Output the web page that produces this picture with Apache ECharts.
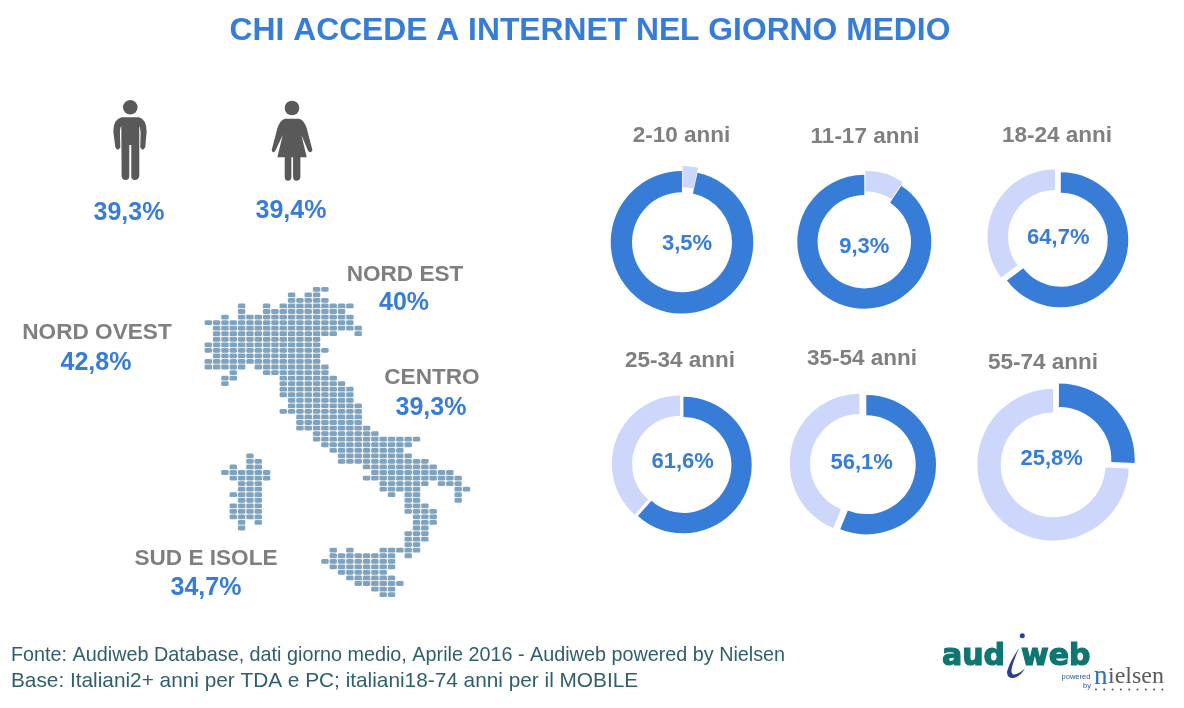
<!DOCTYPE html>
<html>
<head>
<meta charset="utf-8">
<style>html,body{margin:0;padding:0;background:#fff}#chart{width:1184px;height:708px}</style>
<script src="https://cdn.jsdelivr.net/npm/echarts@6/dist/echarts.min.js"></script>
</head>
<body>
<div id="chart"></div>
<script>
// dati
const pageTitle = 'CHI ACCEDE A INTERNET NEL GIORNO MEDIO'
const ageGroups = ['2-10 anni', '11-17 anni', '18-24 anni', '25-34 anni', '35-54 anni', '55-74 anni']
const accessShare = [3.5, 9.3, 64.7, 61.6, 56.1, 25.8]
const restShare = [96.5, 90.7, 35.3, 38.4, 43.9, 74.2]
const genderValues = ['39,3%', '39,4%']
const regionNames = ['NORD EST', 'NORD OVEST', 'CENTRO', 'SUD E ISOLE']
const regionValues = ['40%', '42,8%', '39,3%', '34,7%']
const footerLines = [
    'Fonte: Audiweb Database, dati giorno medio, Aprile 2016 - Audiweb powered by Nielsen',
    'Base: Italiani2+ anni per TDA e PC; italiani18-74 anni per il MOBILE'
]
// mappa a puntini: [riga, da colonna, a colonna]
const italyRuns = [
    [0,13,14],[1,10,10],[1,12,13],[2,10,14],[3,4,4],[3,7,7],[3,9,17],[4,4,4],[4,7,16],
    [5,2,2],[5,4,17],[6,0,17],[7,1,18],[8,1,15],[8,18,18],[9,1,13],[10,0,13],[11,0,14],
    [12,1,13],[13,0,13],[14,0,4],[14,6,14],[15,3,3],[15,7,14],[16,2,3],[16,9,15],[17,2,2],
    [17,9,16],[18,9,17],[19,9,17],[20,10,17],[21,10,18],[22,9,18],[23,11,18],[24,11,18],
    [25,11,19],[26,13,20],[27,13,25],[28,14,24],[29,15,23],[30,16,24],[31,16,26],[32,19,27],
    [33,20,29],[34,19,30],[35,21,26],[35,28,30],[36,21,25],[36,30,31],[37,22,22],[37,24,25],
    [37,30,30],[38,24,25],[38,30,30],[39,24,26],[40,24,27],[41,25,27],[42,25,27],[43,25,26],
    [44,24,26],[45,24,26],[46,24,25],[47,15,15],[47,17,17],[47,21,25],[48,15,22],[48,24,24],
    [49,14,22],[50,15,22],[51,16,21],[52,17,22],[53,18,23],[54,20,22],[55,21,22]
]
const sardiniaRuns = [
    [30,5,5],[31,5,6],[32,3,3],[32,5,6],[33,2,7],[34,3,7],[35,4,6],[36,4,6],[37,3,6],[38,4,6],
    [39,3,6],[40,3,6],[41,3,6],[42,4,4],[42,6,6],[43,4,4]
]

// posizioni e stili
const BLUE = '#377dd8'
const LIGHT = '#cdd6fb'
const GREY = '#7f7f7f'
const DARK = '#595959'
const TEAL = '#0f7570'
const pieCenters = [[682, 242.3], [864.3, 241.7], [1060.8, 239.8], [683.4, 465], [866.3, 464.7], [1053.1, 464.8]]
const pieRadii = [[50, 71.3], [46.7, 67], [47, 67.5], [48, 68.3], [49.4, 69.7], [52.4, 75.8]]
const pieOffsets = [5, 4, 6.5, 3.5, 7, 8]
const labelShifts = [[5, 2], [0, 5], [-2.5, -2], [-0.7, -3], [-4.6, -2], [-1.4, -6]]
const agePositions = [[681.5, 136], [865, 137], [1057, 136], [680, 361], [862, 359], [1043, 363]]
const genderPositions = [[129, 213], [291, 211]]
const regionPositions = [[405, 275, 404, 303], [97, 333, 96, 363], [432, 378, 431, 408], [206, 559, 206, 588]]
const footerSizes = [19.8, 20.8]

function runsToPoints(runs) {
    const pts = []
    runs.forEach(r => {
        for (let c = r[1]; c <= r[2]; c++) pts.push([c, r[0]])
    })
    return pts
}

function pieSeries(i) {
    const share = { value: accessShare[i], itemStyle: { color: BLUE } }
    const rest = { value: restShare[i], itemStyle: { color: LIGHT } }
    let data
    if (i < 2) {
        // qui la fetta chiara e il valore
        share.itemStyle.color = LIGHT
        rest.itemStyle.color = BLUE
        share.selected = true
        data = [share, rest]
    } else if (i < 5) {
        rest.selected = true
        data = [share, rest]
    } else {
        share.selected = true
        data = [share, rest]
    }
    const plain = data.find(d => !d.selected)
    plain.label = {
        show: true,
        position: 'center',
        formatter: String(accessShare[i]).replace('.', ',') + '%',
        color: BLUE,
        fontSize: 22,
        fontWeight: 'bold',
        fontFamily: 'Liberation Sans',
        offset: labelShifts[i]
    }
    return {
        type: 'pie',
        center: pieCenters[i],
        radius: pieRadii[i],
        startAngle: 90,
        silent: true,
        animation: false,
        selectedMode: 'multiple',
        selectedOffset: pieOffsets[i],
        avoidLabelOverlap: false,
        label: { show: false },
        labelLine: { show: false },
        data: data
    }
}

function textEl(text, x, y, size, color, extra) {
    return {
        type: 'text',
        x: x,
        y: y,
        silent: true,
        style: Object.assign({
            text: text,
            fill: color,
            align: 'center',
            verticalAlign: 'middle',
            font: 'bold ' + size + 'px "Liberation Sans"'
        }, extra || {})
    }
}

function circleEl(cx, cy, r, color) {
    return { type: 'circle', silent: true, shape: { cx: cx, cy: cy, r: r }, style: { fill: color } }
}

function pathEl(d, x, y, w, h, color) {
    return {
        type: 'path',
        shape: { pathData: d, layout: 'cover', x: x, y: y, width: w, height: h },
        style: { fill: color }
    }
}

const manPath = 'M95 82L147 82Q170 88 170 125L166 172Q158 186 151 172L152 130Q151 112 148 108L148 258Q146 270 135 270Q124 270 124 258L124 165L118 165L118 258Q118 270 107 270Q96 270 95 258L94 108Q90 112 90 130L91 172Q84 186 76 172L70 125Q70 88 95 82Z'
const womanPath = 'M585 86L627 86Q642 90 650 115L667 180Q662 192 654 182L634 135L650 202L631 202L631 260Q630 272 619 272Q609 272 609 260L609 202L604 202L604 260Q604 272 594 272Q584 272 584 260L584 202L562 202L578 135L556 182Q548 192 545 180L562 115Q570 90 585 86Z'
const swooshPath = 'M268 70Q240 110 232 140Q232 162 255 158Q275 150 285 130Q265 150 250 148Q240 145 250 115Q258 90 268 70Z'

const logoText = { align: 'left', verticalAlign: 'bottom', font: 'bold 30px "DejaVu Sans"', stroke: TEAL, lineWidth: 1.2 }
const elements = [
    textEl(pageTitle, 590, 31, 31.8, BLUE),
    circleEl(130.3, 107.3, 7.3, DARK),
    circleEl(292, 108, 7.3, DARK),
    textEl('aud', 942, 672, 30, TEAL, logoText),
    textEl('web', 1021, 672, 30, TEAL, logoText),
    circleEl(1022.3, 635.7, 2.5, '#2a3e8f'),
    textEl('powered', 1076, 677, 7.5, '#2f55a8', { font: '7.5px "Liberation Sans"' }),
    textEl('by', 1087, 686, 7.5, '#2f55a8', { font: '7.5px "Liberation Sans"' }),
    textEl('n', 1094, 677, 27, '#2f6fb0', { align: 'left', font: '27px "Liberation Serif"' }),
    textEl('ielsen', 1108, 677, 24, '#5a5a5a', { align: 'left', font: '24px "Liberation Serif"' })
]
for (let i = 0; i < 9; i++) elements.push(circleEl(1096 + i * 8.3, 689.5, 1, '#555555'))
ageGroups.forEach((a, i) => elements.push(textEl(a, agePositions[i][0], agePositions[i][1], 22.5, GREY)))
genderValues.forEach((v, i) => elements.push(textEl(v, genderPositions[i][0], genderPositions[i][1], 25, BLUE)))
regionNames.forEach((n, i) => {
    const p = regionPositions[i]
    elements.push(textEl(n, p[0], p[1], 22.6, GREY))
    elements.push(textEl(regionValues[i], p[2], p[3], 25, BLUE))
})
footerLines.forEach((t, i) => elements.push(textEl(t, 11, 656 + i * 25, footerSizes[i], '#2f5f6b', {
    align: 'left', font: footerSizes[i] + 'px "Liberation Sans"'
})))

const myChart = echarts.init(document.getElementById('chart'), null, { renderer: 'canvas' })

const option = {
    backgroundColor: '#ffffff',
    animation: false,
    tooltip: { show: false },
    grid: { left: 208.3, top: 289.3, width: 258.2, height: 305.3 },
    xAxis: { type: 'value', min: 0, max: 31, show: false },
    yAxis: { type: 'value', min: 0, max: 55, inverse: true, show: false },
    graphic: { elements: elements },
    series: [
        {
            type: 'scatter',
            silent: true,
            clip: false,
            symbol: 'roundRect',
            symbolSize: [7.4, 4.8],
            itemStyle: { color: '#7fa3bf', opacity: 1 },
            data: runsToPoints(italyRuns).concat(runsToPoints(sardiniaRuns))
        },
        {
            // omino, donna e svolazzo del logo
            type: 'custom',
            coordinateSystem: 'none',
            silent: true,
            data: [0],
            renderItem: () => ({
                type: 'group',
                children: [
                    pathEl(manPath, 113.3, 117.3, 33.3, 62.7, DARK),
                    pathEl(womanPath, 271.7, 118.7, 40.7, 62, DARK),
                    pathEl(swooshPath, 1007, 648, 18, 30, '#2a3e8f')
                ]
            })
        }
    ].concat(ageGroups.map((a, i) => pieSeries(i)))
}

myChart.setOption(option)
</script>
</body>
</html>
